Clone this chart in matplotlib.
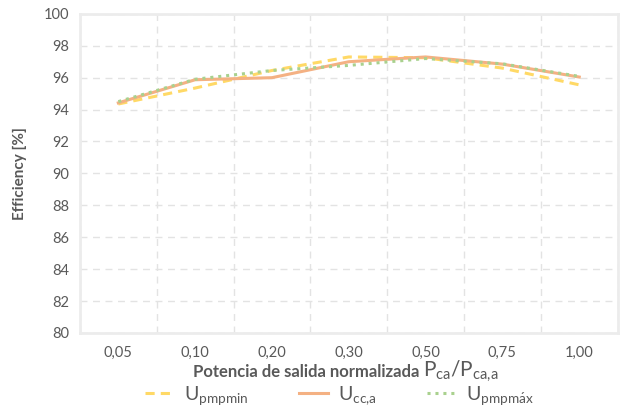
import numpy as np
import matplotlib
matplotlib.use("Agg")
import matplotlib.pyplot as plt

plt.rcParams['font.family'] = ['Lato', 'DejaVu Sans']
plt.rcParams['mathtext.fontset'] = 'custom'
plt.rcParams['mathtext.rm'] = 'Lato'
plt.rcParams['mathtext.it'] = 'Lato'

categorias = ["0,05", "0,10", "0,20", "0,30", "0,50", "0,75", "1,00"]
u_pmpmin = [94.35, 95.35, 96.45, 97.3, 97.25, 96.6, 95.55]
u_cca = [94.42, 95.87, 96.0, 97.0, 97.3, 96.85, 96.04]
u_pmpmax = [94.5, 95.9, 96.45, 96.77, 97.2, 96.87, 96.08]

gris = "#595959"
x = np.arange(len(categorias))

fig = plt.figure(figsize=(6.29, 4.08), dpi=100)
ax = fig.add_axes([0.127, 0.184, 0.855, 0.782])

ax.plot(x, u_pmpmin, color="#FFD966", lw=2.2, ls=(0, (3, 2)), label=r"$\mathregular{U_{pmpmin}}$")
ax.plot(x, u_cca, color="#F4B183", lw=2.2, label=r"$\mathregular{U_{cc{,}a}}$")
ax.plot(x, u_pmpmax, color="#A9D18E", lw=2.2, ls=(0, (1, 1.6)), label=r"$\mathregular{U_{pmpm\acute{a}x}}$")

ax.set_xlim(-0.5, 6.5)
ax.set_ylim(80, 100)
ax.set_yticks(np.arange(80, 101, 2))
ax.set_xticks(x)
ax.set_xticklabels(categorias)
ax.set_xticks(np.arange(-0.5, 6.6, 0.5), minor=True)
ax.tick_params(which="both", length=0, colors=gris, labelsize=10.5, pad=9)
ax.yaxis.set_tick_params(pad=8)
ax.grid(True, which="minor", axis="x", color="#e3e3e3", ls=(0, (5, 4)), lw=1)
ax.grid(True, which="major", axis="y", color="#e3e3e3", ls=(0, (5, 4)), lw=1)
ax.set_axisbelow(True)
for s in ax.spines.values():
    s.set_color("#ececec")
    s.set_linewidth(2)

ax.set_ylabel("Efficiency [%]", color=gris, fontsize=11, fontweight="bold", labelpad=12)

lbl = fig.text(0.666, 0.076, "Potencia de salida normalizada", ha="right", va="baseline",
               color=gris, fontsize=12, fontweight="bold")
fig.canvas.draw()
bb = lbl.get_window_extent().transformed(fig.transFigure.inverted())
fig.text(bb.x1 + 0.006, 0.076, r"$\mathregular{P_{ca}/P_{ca{,}a}}$", ha="left", va="baseline",
         color=gris, fontsize=15)

leg = fig.legend(loc="lower center", bbox_to_anchor=(0.54, -0.04), ncol=3, frameon=False,
                 fontsize=14, columnspacing=2.6, handlelength=1.5, handletextpad=0.5,
                 labelcolor=gris)

fig.savefig("out.png", dpi=100)
